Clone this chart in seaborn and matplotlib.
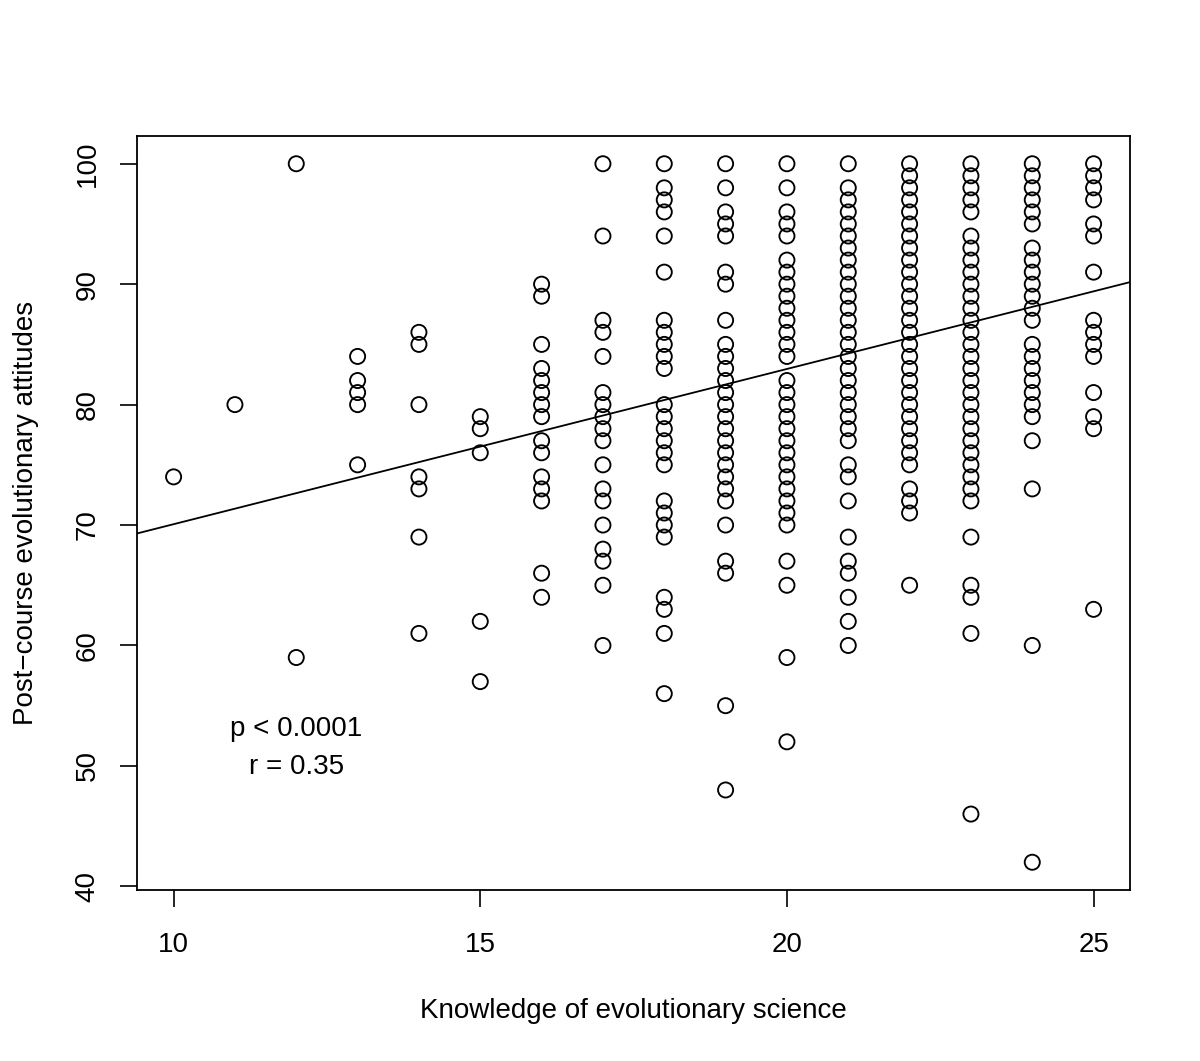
import matplotlib
matplotlib.use("Agg")
import matplotlib.pyplot as plt
import seaborn as sns
import pandas as pd

# Post-course attitude scores observed at each knowledge score
att_10 = [74]
att_11 = [80]
att_12 = [100, 59]
att_13 = [84, 82, 81, 80, 75]
att_14 = [86, 85, 80, 74, 73, 69, 61]
att_15 = [79, 78, 76, 62, 57]
att_16 = [90, 89, 85, 83, 82, 81, 80, 79, 77, 76, 74, 73, 72, 66, 64]
att_17 = [100, 94, 87, 86, 84, 81, 80, 79, 78, 77, 75, 73, 72, 70, 68, 67, 65, 60]
att_18 = [100, 98, 97, 96, 94, 91, 87, 86, 85, 84, 83, 80, 79, 78, 77, 76, 75,
          72, 71, 70, 69, 64, 63, 61, 56]
att_19 = [100, 98, 96, 95, 94, 91, 90, 87, 85, 84, 83, 82, 81, 80, 79, 78, 77,
          76, 75, 74, 73, 72, 70, 67, 66, 55, 48]
att_20 = [100, 98, 96, 95, 94, 92, 91, 90, 89, 88, 87, 86, 85, 84, 82, 81, 80,
          79, 78, 77, 76, 75, 74, 73, 72, 71, 70, 67, 65, 59, 52]
att_21 = [100, 98, 97, 96, 95, 94, 93, 92, 91, 90, 89, 88, 87, 86, 85, 84, 83,
          82, 81, 80, 79, 78, 77, 75, 74, 72, 69, 67, 66, 64, 62, 60]
att_22 = [100, 99, 98, 97, 96, 95, 94, 93, 92, 91, 90, 89, 88, 87, 86, 85, 84,
          83, 82, 81, 80, 79, 78, 77, 76, 75, 73, 72, 71, 65]
att_23 = [100, 99, 98, 97, 96, 94, 93, 92, 91, 90, 89, 88, 87, 86, 85, 84, 83,
          82, 81, 80, 79, 78, 77, 76, 75, 74, 73, 72, 69, 65, 64, 61, 46]
att_24 = [100, 99, 98, 97, 96, 95, 93, 92, 91, 90, 89, 88, 87, 85, 84, 83, 82,
          81, 80, 79, 77, 73, 60, 42]
att_25 = [100, 99, 98, 97, 95, 94, 91, 87, 86, 85, 84, 81, 79, 78, 63]

knowledge_scores = list(range(10, 26))
attitude_lists = [att_10, att_11, att_12, att_13, att_14, att_15, att_16, att_17,
                  att_18, att_19, att_20, att_21, att_22, att_23, att_24, att_25]

# Fitted regression line
fit_intercept = 57.18
fit_slope = 1.289

x_ticks = [10, 15, 20, 25]
y_ticks = [40, 50, 60, 70, 80, 90, 100]

xs, ys = [], []
for k, lst in zip(knowledge_scores, attitude_lists):
    xs += [k] * len(lst)
    ys += lst
df = pd.DataFrame({"knowledge": xs, "attitude": ys})

sns.set_theme(style="ticks")
plt.rcParams["font.family"] = ["Liberation Sans", "DejaVu Sans"]
plt.rcParams["text.color"] = "black"
plt.rcParams["axes.labelcolor"] = "black"
plt.rcParams["xtick.color"] = "black"
plt.rcParams["ytick.color"] = "black"

fig = plt.figure(figsize=(12, 10.61), dpi=100)
ax = fig.add_axes([0.114, 0.161, 0.828, 0.711])

sns.scatterplot(data=df, x="knowledge", y="attitude", ax=ax, marker="o",
                s=118, facecolor="none", edgecolor="black", linewidth=1.35,
                zorder=3)

ax.set_xlim(9.4, 25.6)
ax.set_ylim(39.68, 102.32)
ax.axline((0, fit_intercept), slope=fit_slope, color="black", linewidth=1.3,
          zorder=2)

FS = 20
ax.set_xticks(x_ticks)
ax.set_yticks(y_ticks)
ax.set_xticklabels([str(t) for t in x_ticks], fontsize=FS)
ax.set_yticklabels([str(t) for t in y_ticks], fontsize=FS, rotation=90,
                   va="center")
ax.tick_params(direction="out", length=12, width=1.2, color="black",
               labelcolor="black")
ax.tick_params(axis="x", pad=18)
ax.tick_params(axis="y", pad=14)

for sp in ax.spines.values():
    sp.set_visible(True)
    sp.set_color("black")
    sp.set_linewidth(1.3)

ax.set_xlabel("Knowledge of evolutionary science", fontsize=FS, labelpad=29,
              color="black")
ax.set_ylabel("Post\u2212course evolutionary attitudes", fontsize=FS,
              labelpad=26, color="black")

ax.text(12, 53.1, "p < 0.0001", ha="center", va="center", fontsize=FS,
        color="black")
ax.text(12, 49.9, "r = 0.35", ha="center", va="center", fontsize=FS,
        color="black")

fig.savefig("out.png", dpi=100, facecolor="white")
